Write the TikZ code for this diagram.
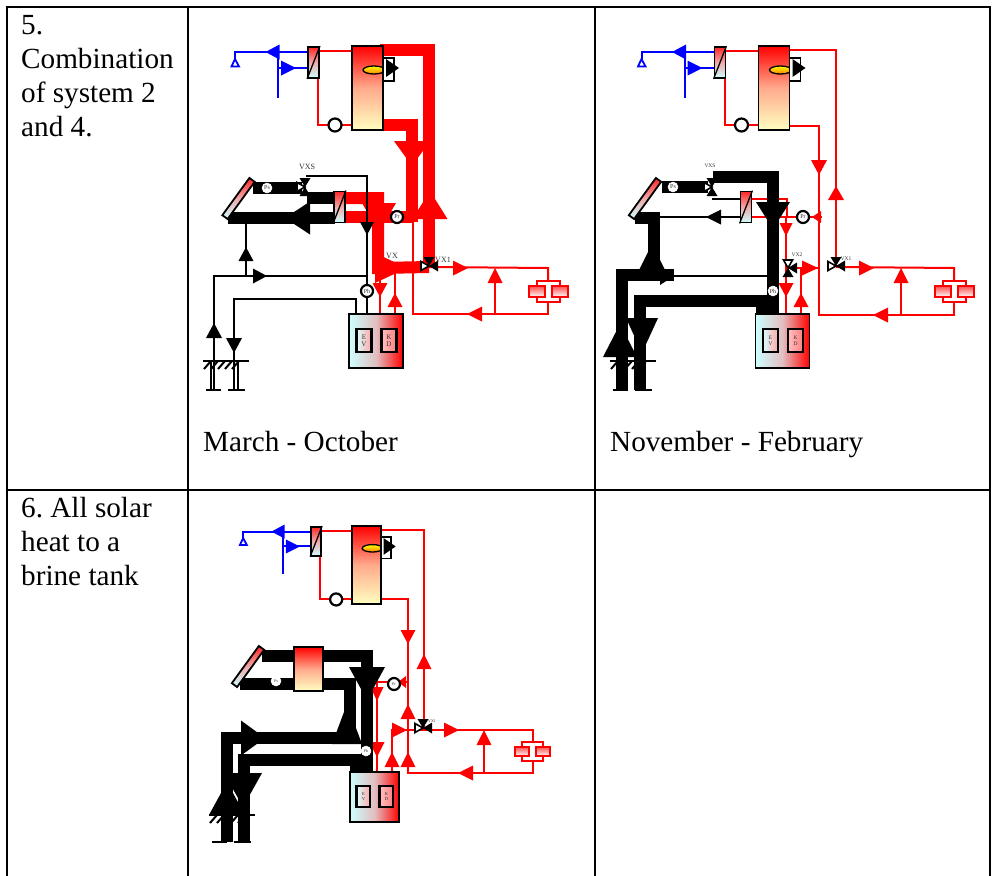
\documentclass[tikz,border=0pt]{standalone}
\usepackage{fontspec}
\setmainfont{Liberation Serif}
\usetikzlibrary{shapes.geometric}
\definecolor{salmon}{RGB}{255,170,140}
\definecolor{rosegray}{RGB}{226,190,192}
\definecolor{hxrose}{RGB}{240,170,170}

\tikzset{
  hotline/.style={draw=red, line width=2pt},
  hotmain/.style={draw=red, line width=12pt},
  coldline/.style={draw=blue, line width=2pt},
  brineline/.style={draw=black, line width=1.8pt},
  brinemain/.style={draw=black, line width=12pt},
  partbox/.style={draw=black, line width=1.8pt, inner sep=0pt},
  hxbox/.style={partbox, minimum width=11pt, minimum height=31pt, top color=red!85, bottom color=cyan!20, middle color=hxrose},
  tankbox/.style={partbox, top color=red, bottom color=yellow!25, middle color=salmon},
  burner/.style={ellipse, draw=black, line width=1.3pt, inner sep=0pt, minimum width=22pt, minimum height=8pt, top color=yellow, bottom color=orange},
  fanbox/.style={partbox, fill=white, minimum width=11pt, minimum height=23pt},
  collector/.style={hxbox, minimum width=6.5pt, minimum height=46pt},
  pumpnode/.style={circle, draw=black, fill=white, line width=2.2pt, minimum size=12pt, inner sep=0pt, text=gray!40!black, font=\fontsize{6}{6}\selectfont},
  flatpump/.style={pumpnode, draw=white, line width=0.5pt, minimum size=10pt},
  storebox/.style={partbox, minimum width=54pt, minimum height=54pt, left color=cyan!20, right color=red, middle color=rosegray},
  evbox/.style={partbox, line width=2.2pt, minimum width=15pt, minimum height=23pt, left color=cyan!15, right color=red!35, align=center, text=gray!40!black},
  kdbox/.style={evbox, left color=red!25, right color=red!50},
  valvetag/.style={inner sep=0pt, text=gray!40!black},
  celltext/.style={anchor=north west, inner sep=0pt, align=left, font=\fontsize{29.2}{34}\selectfont}
}

% filled flow arrows: base x/base y/direction/length/half width
\newcommand{\flowtips}[2]{%
  \foreach \tx/\ty/\ang/\len/\hw in {#2} {
    \fill[#1, shift={(\tx,\ty)}, rotate=\ang] (\len,0) -- (0,\hw) -- (0,-\hw) -- cycle;
  }}

% three way valve: white leg, then the two black legs
\newcommand{\valve}[5]{%
  \begin{scope}[shift={(#1,#2)}]
    \draw[black, fill=white, line width=1.6pt, rotate=#3] (0,0) -- (8,4.5) -- (8,-4.5) -- cycle;
    \foreach \a in {#4,#5} {
      \fill[black, rotate=\a] (0,0) -- (9,5.5) -- (9,-5.5) -- cycle;
    }
  \end{scope}}

\newcommand{\heatx}[3]{%
  \node[hxbox] (#1) at (#2,#3) {};
  \draw[black, line width=1.3pt] (#1.south west) -- (#1.north east);}

% radiator pair at the end of the heating loop
\newcommand{\radiator}[3]{%
  \begin{scope}[shift={(#1,#2)}, scale=#3]
    \draw[red, line width=2pt] (-11.5,-10.5) rectangle (11.5,10.5);
    \foreach \bx in {-19.5,3.5} {
      \shadedraw[draw=red, line width=2pt, top color=red!70, bottom color=white] (\bx,-5.5) rectangle ++(16,11);
    }
  \end{scope}}

% hatch and foot lines of the borehole
\newcommand{\ground}[3]{%
  \draw[black, line width=2pt] (#1,#2) -- ++(46,0);
  \foreach \h in {0,1,2,3,4} {
    \draw[black, line width=2pt] (#1+1+\h*7,#2+8) -- ++(7,-8);
  }
  \draw[black, line width=2pt] (#1+3,#3) -- ++(15,0) (#1+25,#3) -- ++(17,0);}

% store with the two inner vessels
\newcommand{\store}[5]{%
  \begin{scope}[shift={(#2,#3)}, scale=#4, transform shape]
    \node[storebox] (#1store) at (0,0) {};
    \node[evbox, font=\fontsize{#5}{#5}\selectfont] (#1ev) at (-12,-0.5) {E\\V};
    \node[kdbox, font=\fontsize{#5}{#5}\selectfont] (#1kd) at (13,-0.5) {K\\D};
  \end{scope}}

% tap water side: exchanger, boiler, burner and pump
\newcommand{\toprig}[4]{%
  \begin{scope}[shift={(#2,#3)}, scale=#4, transform shape]
    \draw[coldline] (235,59) -- (235,52) -- (308,52);
    \draw[coldline] (278,52) -- (278,98);
    \draw[coldline] (278,68) -- (308,68);
    \draw[blue, fill=white, line width=1.8pt] (235,59) -- (239,66.5) -- (231.5,66.5) -- cycle;
    \flowtips{blue}{279.5/52/180/14/7.5, 281/68/0/15/7.5}
    \draw[hotline] (319,51) -- (352,51);
    \draw[hotline] (318,78) -- (318,125) -- (352,125);
    \heatx{#1hx}{313.5}{62.5}
    \node[tankbox, minimum width=31pt, minimum height=84pt] (#1tank) at (367.5,88) {};
    \node[burner] (#1flame) at (374,70) {};
    \node[fanbox] (#1fan) at (388.5,69.5) {};
    \flowtips{black}{386/68/0/13/9}
    \node[pumpnode, minimum size=13pt] (#1pump) at (335,125) {};
  \end{scope}}

\begin{document}
\begin{tikzpicture}[x=1pt, y=-1pt]
    \useasboundingbox (0,0) rectangle (994,876);

    % Table rules
    \foreach \x in {6.5,188,595,989.5} {
      \draw[black, line width=2pt] (\x,6) -- (\x,876);
    }
    \foreach \y in {7,489.7} {
      \draw[black, line width=2pt] (5.5,\y) -- (990.5,\y);
    }

    % Cell texts
    \node[celltext] (rowfive) at (21,15) {5.\\Combination\\of system 2\\and 4.};
    \node[celltext] (rowsix) at (21,497.5) {6.\ All solar\\heat to a\\brine tank};
    \node[celltext, anchor=base west] (marchtxt) at (203,451) {March - October};
    \node[celltext, anchor=base west] (novtxt) at (610,451) {November - February};

    % ---- System 5, March - October ----
    \coordinate (avx) at (429,267);
    \draw[hotline] (413,217) -- (413,314) -- (548,314) -- (548,302);
    \draw[hotline] (avx) -- (548,268) -- (548,281);
    \draw[hotline] (495,314) -- (495,283);
    \draw[hotline] (380,268) -- (380,314);
    \draw[hotline] (395,268) -- (395,314);
    \draw[hotmain] (380,50) -- (429,50) -- (avx);
    \draw[hotmain] (383,125) -- (412,125) -- (412,222);
    \draw[hotmain] (345,198) -- (378,198) -- (378,268) -- (avx);
    \draw[hotmain] (345,217) -- (412,217);
    \flowtips{red}{430/219/90/28/17.5, 412/141/270/25/18, 379/203/270/29/17, 375/268/0/32/15,
      380/283/270/14/7.5, 395/307/90/14/7.5, 453/268/0/15/7.5, 482/314/180/15/7.5, 495/283/90/15/7.5}
    \draw[brineline] (306,176) -- (367,176) -- (367,314);
    \draw[brineline] (246,223) -- (246,276);
    \draw[brineline] (214,390) -- (214,276) -- (367,276);
    \draw[brineline] (234,390) -- (234,299) -- (356,299) -- (356,314);
    \draw[brineline] (211,361) -- (211,390);
    \draw[brineline] (238,361) -- (238,390);
    \draw[brinemain] (253,188) -- (302,188);
    \draw[brinemain] (307,198) -- (333,198);
    \draw[brinemain] (228,217.5) -- (335,217.5);
    \flowtips{black}{310/218/180/25/16.5, 367/222/270/13/7, 246/261/90/14/7.5, 253/276/0/14/7.5,
      214/338/90/15/8, 234/338/270/15/8}
    \ground{203}{361}{390}
    \radiator{548.5}{291.5}{1}
    \toprig{a}{0}{0}{1}
    \heatx{ahxb}{339.5}{207}
    \node[collector, rotate=-36] (acoll) at (238.5,198.5) {};
    \node[flatpump] (apsol) at (267,188) {Ps};
    \node[pumpnode] (aprad) at (397,217) {Pr};
    \node[pumpnode] (aphp) at (367,291) {Ph};
    \valve{305}{187}{180}{90}{270}
    \valve{429}{266}{180}{0}{90}
    \node[valvetag, font=\fontsize{8}{8}\selectfont] (avxs) at (307,167) {VXS};
    \node[valvetag, font=\fontsize{8}{8}\selectfont] (avxb) at (392,256) {VX};
    \node[valvetag, font=\fontsize{8}{8}\selectfont] (avxa) at (443,260) {VX1};
    \store{a}{376}{341}{1}{7}

    % ---- System 5, November - February ----
    \coordinate (bvx) at (836,267);
    \draw[hotline] (786,50) -- (836,50) -- (bvx);
    \draw[hotline] (789,126) -- (819,126) -- (819,315) -- (954,315) -- (954,302);
    \draw[hotline] (bvx) -- (954,268) -- (954,281);
    \draw[hotline] (901,315) -- (901,283);
    \draw[hotline] (752,199) -- (787,199) -- (787,217);
    \draw[hotline] (752,217) -- (822,217);
    \draw[hotline] (786,217) -- (786,314);
    \draw[hotline] (788,268) -- (819,268);
    \draw[hotline] (801,268) -- (801,314);
    \flowtips{red}{836/200/90/14/8, 819/160/270/15/8, 786/223/270/13/6.5, 786/283/270/14/7.5,
      801/307/90/14/7.5, 802/268/0/16/7.5, 859/268/0/15/7.5, 888/315/180/15/7.5, 901/283/90/15/7.5, 821/217/180/9/6}
    \draw[brineline] (712,199) -- (740,199);
    \draw[brineline] (653,217) -- (740,217);
    \draw[brineline] (674,276) -- (768,276);
    \draw[brinemain] (662,187) -- (708,187);
    \draw[brinemain] (713,176.5) -- (773,176.5) -- (773,314);
    \draw[brinemain] (635,217.5) -- (654,217.5) -- (654,275);
    \draw[brinemain] (621.5,390) -- (621.5,275) -- (674,275);
    \draw[brinemain] (640,390) -- (640,301) -- (768,301);
    \fill[black] (756,306) rectangle (779,314);
    \flowtips{black}{773/202/270/27/17, 652/270/90/26/13, 660/276/0/14/9, 721/217/180/15/7.5,
      620/357/90/33/17, 642/318/270/35/16}
    \ground{610}{361}{390}
    \radiator{954.5}{291.5}{1}
    \toprig{b}{406.5}{0}{1}
    \heatx{bhxb}{746}{207}
    \node[collector, rotate=-36] (bcoll) at (645,198.5) {};
    \node[flatpump] (bpsol) at (673,187) {Ps};
    \node[pumpnode] (bprad) at (803,217) {Pr};
    \node[flatpump] (bphp) at (773,291) {Ph};
    \valve{712}{187}{180}{90}{270}
    \valve{836}{266}{180}{0}{90}
    \valve{788}{268}{90}{0}{270}
    \node[valvetag, font=\fontsize{5.5}{5.5}\selectfont] (bvxs) at (710,166) {VXS};
    \node[valvetag, font=\fontsize{5.5}{5.5}\selectfont] (bvxb) at (797,255) {VX2};
    \node[valvetag, font=\fontsize{5.5}{5.5}\selectfont] (bvxa) at (846,259) {VX1};
    \store{b}{782.5}{341}{1}{5.5}

    % ---- System 6 ----
    \coordinate (cvx) at (424,729);
    \draw[hotline] (378,530) -- (424,530) -- (cvx);
    \draw[hotline] (382,599) -- (408,599) -- (408,773) -- (533,773) -- (533,761);
    \draw[hotline] (392,772) -- (392,730) -- (533,730) -- (533,742);
    \draw[hotline] (484,773) -- (484,745);
    \draw[hotline] (377,682) -- (409,682);
    \draw[hotline] (377,682) -- (377,772);
    \flowtips{red}{424/669/90/15/7.5, 408/630/270/14/7.5, 408/719/90/15/7.5, 408/767/90/15/7.5,
      392/767/90/15/7.5, 377/687/270/14/6.5, 377/742/270/15/7.5, 392/730/0/15/7.5, 444/730/0/15/7.5,
      473/773/180/15/7.5, 484/745/90/15/7.5, 406/682/180/8/6}
    \draw[brinemain] (262,656) -- (367,656) -- (367,772);
    \draw[brinemain] (240,684) -- (350,684) -- (350,743);
    \draw[brinemain] (227,842) -- (227,737.5) -- (350,737.5);
    \draw[brinemain] (244,842) -- (244,760) -- (367,760);
    \fill[black] (350,765) rectangle (373,772);
    \flowtips{black}{367/667/270/33/18, 347/744/90/40/15, 241/738/0/24/17.5, 227/815/90/33/18, 243/773/270/34/19}
    \ground{209}{815}{842}
    \radiator{532.5}{751.5}{0.9}
    \toprig{c}{24.6}{483.2}{0.93}
    \node[tankbox, minimum width=29pt, minimum height=44pt] (chxb) at (308.5,669) {};
    \node[collector, rotate=-36] (ccoll) at (248,666.5) {};
    \node[flatpump, font=\fontsize{4}{4}\selectfont] (cpsol) at (276,681) {Ps};
    \node[pumpnode, font=\fontsize{4}{4}\selectfont] (cprad) at (394,684) {Pr};
    \node[flatpump, font=\fontsize{4}{4}\selectfont] (cphp) at (366,751) {Ph};
    \valve{423}{728}{180}{0}{90}
    \node[valvetag, font=\fontsize{4}{4}\selectfont] (cvxa) at (432,721) {VX1};
    \store{c}{374.5}{797}{0.92}{5}

\end{tikzpicture}
\end{document}
